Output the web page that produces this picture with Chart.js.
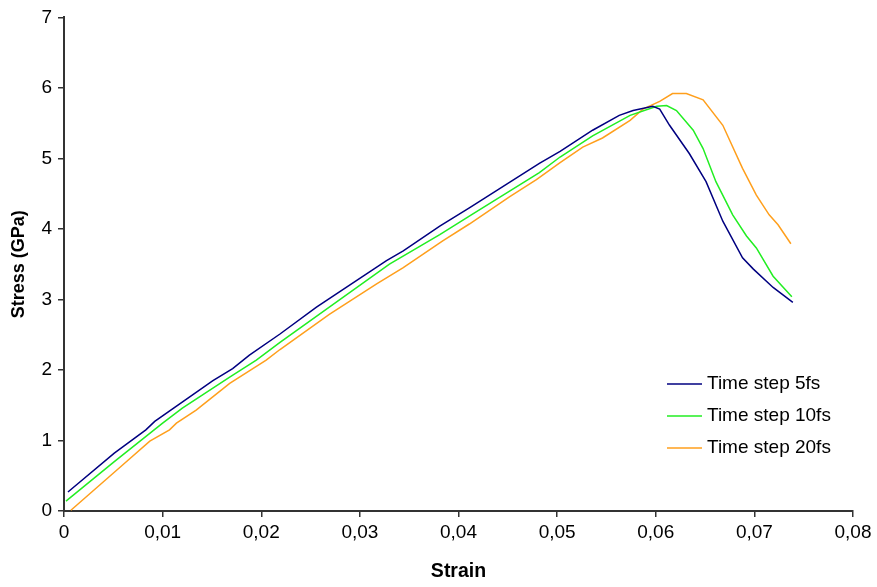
<!DOCTYPE html>
<html>
<head>
<meta charset="utf-8">
<script src="https://cdn.jsdelivr.net/npm/chart.js@4"></script>
<style>
  html, body { margin: 0; padding: 0; background: #fff; }
  #wrap { width: 877px; height: 587px; }
</style>
</head>
<body>
<div id="wrap"><canvas id="stressChart"></canvas></div>
<script>
// series: strain / stress (GPa)
const strain5  = [0.0004, 0.0051, 0.0083, 0.0092, 0.0151, 0.0171, 0.0188, 0.0219, 0.0256, 0.0327, 0.0344, 0.0381, 0.0411, 0.0482, 0.0503, 0.0536, 0.0563, 0.0577, 0.0597, 0.0604, 0.0614, 0.0634, 0.0651, 0.0668, 0.0688, 0.0699, 0.0719, 0.0739];
const stress5  = [0.27,   0.82,   1.15,   1.27,   1.85,   2.02,   2.21,   2.51,   2.89,   3.55,   3.69,   4.04,   4.30,   4.93,   5.10,   5.40,   5.61,   5.68,   5.74,   5.70,   5.47,   5.07,   4.67,   4.11,   3.59,   3.43,   3.17,   2.96];

const strain10 = [0.0002, 0.0051, 0.0100, 0.0120, 0.0168, 0.0195, 0.0219, 0.0330, 0.0381, 0.0413, 0.0482, 0.0503, 0.0536, 0.0574, 0.0601, 0.0611, 0.0621, 0.0638, 0.0648, 0.0661, 0.0678, 0.0692, 0.0702, 0.0719, 0.0738];
const stress10 = [0.14,   0.70,   1.245,  1.46,   1.90,   2.14,   2.39,   3.50,   3.92,   4.20,   4.80,   5.02,   5.32,   5.61,   5.74,   5.75,   5.68,   5.40,   5.14,   4.67,   4.20,   3.90,   3.73,   3.33,   3.04];

const strain20 = [0.0007, 0.0060, 0.0087, 0.0107, 0.0114, 0.0134, 0.0168, 0.0205, 0.0219, 0.0269, 0.0317, 0.0344, 0.0384, 0.0411, 0.0452, 0.0479, 0.0503, 0.0526, 0.0546, 0.0574, 0.0587, 0.0604, 0.0617, 0.0631, 0.0648, 0.0668, 0.0688, 0.0702, 0.0715, 0.0724, 0.0737];
const stress20 = [0.01,   0.66,   0.99,   1.15,   1.245,  1.43,   1.81,   2.14,   2.29,   2.79,   3.22,   3.45,   3.83,   4.07,   4.46,   4.70,   4.94,   5.16,   5.29,   5.54,   5.70,   5.81,   5.92,   5.92,   5.83,   5.47,   4.86,   4.48,   4.20,   4.06,   3.79];

const seriesNames = ['Time step 5fs', 'Time step 10fs', 'Time step 20fs'];
const xTicks = [0, 0.01, 0.02, 0.03, 0.04, 0.05, 0.06, 0.07, 0.08];
const yTicks = [0, 1, 2, 3, 4, 5, 6, 7];

function pairs(xs, ys) {
    return xs.map((x, i) => ({x: x, y: ys[i]}));
}

const FONT = 'Liberation Sans, Arial, sans-serif';
const AXIS = '#333333';

// legend inside the plot, lower right
const insideLegend = {
    id: 'insideLegend',
    afterDraw(chart) {
        const ctx = chart.ctx;
        ctx.save();
        ctx.font = '19px ' + FONT;
        ctx.textBaseline = 'middle';
        chart.data.datasets.forEach((ds, i) => {
            const y = 384 + i * 32;
            ctx.strokeStyle = ds.borderColor;
            ctx.lineWidth = 1.5;
            ctx.beginPath();
            ctx.moveTo(667, y);
            ctx.lineTo(702, y);
            ctx.stroke();
            ctx.fillStyle = '#000';
            ctx.fillText(ds.label, 707, y);
        });
        ctx.restore();
    }
};

function makeDs(label, xs, ys, color) {
    return {
        label: label,
        data: pairs(xs, ys),
        borderColor: color,
        borderWidth: 1.5,
        pointRadius: 0,
        showLine: true,
        fill: false,
        tension: 0
    };
}

new Chart(document.getElementById('stressChart').getContext('2d'), {
    type: 'scatter',
    data: {
        datasets: [
            makeDs(seriesNames[0], strain5, stress5, '#000080'),
            makeDs(seriesNames[1], strain10, stress10, '#22ee22'),
            makeDs(seriesNames[2], strain20, stress20, '#ff9f1c')
        ]
    },
    options: {
        responsive: true,
        maintainAspectRatio: false,
        animation: false,
        layout: { padding: { top: 14, right: 24, left: 4, bottom: 0 } },
        plugins: {
            legend: { display: false },
            tooltip: { enabled: false }
        },
        scales: {
            x: {
                type: 'linear',
                min: 0,
                max: 0.08,
                afterBuildTicks(axis) { axis.ticks = xTicks.map(v => ({value: v})); },
                afterFit(axis) { axis.height = 76; },
                ticks: {
                    color: '#000',
                    font: { family: FONT, size: 19 },
                    padding: 4,
                    maxRotation: 0,
                    callback: v => v === 0 ? '0' : v.toFixed(2).replace('.', ',')
                },
                grid: { drawOnChartArea: false, color: AXIS, tickLength: 6, lineWidth: 1.5 },
                border: { color: AXIS, width: 2 },
                title: {
                    display: true,
                    text: 'Strain',
                    color: '#000',
                    font: { family: FONT, size: 19.5, weight: 'bold' },
                    padding: { top: 10 }
                }
            },
            y: {
                min: 0,
                max: 7,
                afterBuildTicks(axis) { axis.ticks = yTicks.map(v => ({value: v})); },
                afterFit(axis) { axis.width = 60; },
                ticks: {
                    color: '#000',
                    font: { family: FONT, size: 19 },
                    padding: 6
                },
                grid: { drawOnChartArea: false, color: AXIS, tickLength: 6, lineWidth: 1.5 },
                border: { color: AXIS, width: 2 },
                title: {
                    display: true,
                    text: 'Stress (GPa)',
                    color: '#000',
                    font: { family: FONT, size: 18, weight: 'bold' },
                    padding: { bottom: 0 }
                }
            }
        }
    },
    plugins: [insideLegend]
});
</script>
</body>
</html>
